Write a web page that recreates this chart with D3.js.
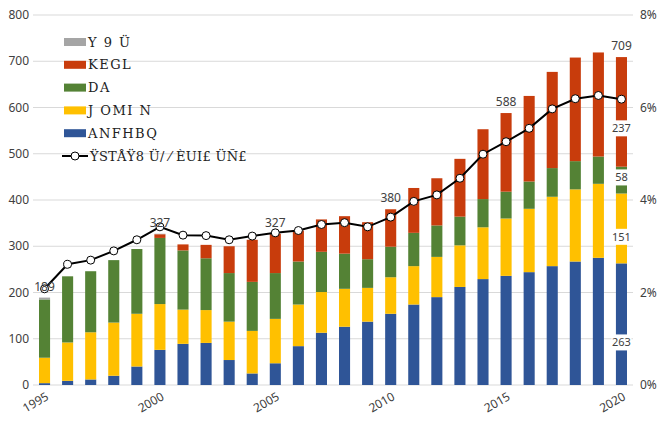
<!DOCTYPE html>
<html>
<head>
<meta charset="utf-8">
<script src="https://cdn.jsdelivr.net/npm/d3@7"></script>
<style>
  body { margin: 0; background: #fff; }
  svg { display: block; font-family: "Noto Sans", "Open Sans", sans-serif; }
  .grid line { stroke: #d9d9d9; stroke-width: 1; }
  .tick-label { font-size: 12px; fill: #404040; }
  .val-label { font-size: 12px; fill: #404040; }
  .legend text { font-family: "DejaVu Serif", serif; font-size: 13px; fill: #222; letter-spacing: 1.5px; }
</style>
</head>
<body>
<div id="chart"></div>
<script>
// --- data ---
const years = d3.range(1995, 2021);
const seriesNames = ["ANFHBQ", "J OMI N", "DA", "KEGL", "Y 9 Ü"];
const blue   = [4, 9, 12, 20, 40, 76, 89, 91, 54, 25, 47, 84, 113, 126, 137, 154, 174, 190, 212, 229, 236, 244, 257, 267, 275, 263];
const yellow = [55, 83, 102, 115, 114, 99, 74, 71, 83, 92, 96, 90, 88, 82, 73, 79, 83, 87, 90, 112, 124, 137, 150, 156, 160, 151];
const green  = [126, 143, 132, 135, 140, 143, 128, 112, 105, 106, 99, 93, 87, 76, 62, 66, 72, 68, 62, 61, 58, 59, 62, 61, 59, 58];
const red    = [0, 0, 0, 0, 0, 8, 13, 29, 58, 91, 85, 67, 70, 81, 80, 81, 97, 102, 125, 151, 170, 185, 208, 224, 225, 237];
const other  = [4, 0, 0, 0, 0, 1, 0, 0, 0, 0, 0, 0, 0, 0, 0, 0, 0, 0, 0, 0, 0, 0, 0, 0, 0, 0];
const share  = [2.08, 2.61, 2.70, 2.90, 3.14, 3.42, 3.24, 3.23, 3.14, 3.22, 3.29, 3.34, 3.47, 3.51, 3.42,
                3.63, 3.97, 4.11, 4.47, 4.99, 5.26, 5.55, 5.97, 6.19, 6.26, 6.18];
const lineName = "ŸSTÅŸ8 Ü/ ⁄ ÈUI£ ÜÑ£";
const totalLabelYears = [1995, 2000, 2005, 2010, 2015, 2020];
const xTickYears = [1995, 2000, 2005, 2010, 2015, 2020];
const leftTicks = d3.range(0, 801, 100);
const rightTicks = [0, 2, 4, 6, 8];

const colors = ["#2f5597", "#ffc000", "#548235", "#c83c0c", "#a5a5a5"];
const keys = ["blue", "yellow", "green", "red", "other"];

const rows = years.map((y, i) => ({
  year: y, blue: blue[i], yellow: yellow[i], green: green[i], red: red[i], other: other[i], share: share[i]
}));

const width = 664, height = 427;
const margin = { top: 15, right: 31, bottom: 42, left: 33 };
const innerW = width - margin.left - margin.right;
const innerH = height - margin.top - margin.bottom;

const svg = d3.select("#chart").append("svg")
  .attr("width", width).attr("height", height);
const g = svg.append("g").attr("transform", `translate(${margin.left},${margin.top})`);

const x = d3.scaleBand().domain(years).range([0, innerW]).paddingInner(0.52).paddingOuter(0.26);
const y = d3.scaleLinear().domain([0, 800]).range([innerH, 0]);
const y2 = d3.scaleLinear().domain([0, 8]).range([innerH, 0]);

// gridlines
g.append("g").attr("class", "grid")
  .selectAll("line").data(leftTicks).join("line")
  .attr("x1", 0).attr("x2", innerW)
  .attr("y1", d => y(d)).attr("y2", d => y(d));

// left axis labels
g.append("g").selectAll("text").data(leftTicks).join("text")
  .attr("class", "tick-label")
  .attr("x", -4).attr("y", d => y(d)).attr("dy", "0.35em")
  .attr("text-anchor", "end").text(d => d);

// right axis labels
g.append("g").selectAll("text").data(rightTicks).join("text")
  .attr("class", "tick-label")
  .attr("x", innerW + 7).attr("y", d => y2(d)).attr("dy", "0.35em")
  .attr("text-anchor", "start").text(d => d + "%");

// x labels
g.append("g").selectAll("text").data(xTickYears).join("text")
  .attr("class", "tick-label")
  .attr("text-anchor", "end")
  .attr("transform", d => `translate(${x(d) + x.bandwidth() / 2 + 5},${innerH + 14}) rotate(-30)`)
  .text(d => d);

// stacked bars
const stacked = d3.stack().keys(keys)(rows);
g.append("g").selectAll("g").data(stacked).join("g")
  .attr("fill", (d, i) => colors[i])
  .selectAll("rect").data(d => d).join("rect")
  .attr("x", d => x(d.data.year))
  .attr("width", x.bandwidth())
  .attr("y", d => y(d[1]))
  .attr("height", d => y(d[0]) - y(d[1]));

// segment labels on last bar
const last = rows[rows.length - 1];
const segFrac = [0.35, 0.38, 0.6, 0.35];
const segLabels = keys.slice(0, 4).map((k, i) => {
  const base = stacked[i][rows.length - 1][0];
  return { v: last[k], pos: base + segFrac[i] * last[k] };
});
const segG = g.append("g").selectAll("g").data(segLabels).join("g")
  .attr("transform", d => `translate(${x(last.year) + x.bandwidth() / 2},${y(d.pos)})`);
segG.append("rect")
  .attr("x", -10).attr("y", -8).attr("width", 20).attr("height", 16)
  .attr("fill", "#fff");
segG.append("text").attr("class", "val-label")
  .attr("text-anchor", "middle").attr("dy", "0.35em")
  .style("font-size", "11px")
  .text(d => d.v);

// share line
const line = d3.line()
  .x(d => x(d.year) + x.bandwidth() / 2)
  .y(d => y2(d.share));
g.append("path").datum(rows)
  .attr("fill", "none").attr("stroke", "#000").attr("stroke-width", 2)
  .attr("d", line);
g.append("g").selectAll("circle").data(rows).join("circle")
  .attr("cx", d => x(d.year) + x.bandwidth() / 2)
  .attr("cy", d => y2(d.share))
  .attr("r", 4)
  .attr("fill", "#fff").attr("stroke", "#000").attr("stroke-width", 1);

// total labels
const total = d => d.blue + d.yellow + d.green + d.red + d.other;
g.append("g").selectAll("text").data(rows.filter(d => totalLabelYears.includes(d.year))).join("text")
  .attr("class", "val-label")
  .attr("x", d => x(d.year) + x.bandwidth() / 2)
  .attr("y", d => y(total(d)) - 7)
  .attr("text-anchor", "middle")
  .text(d => total(d));

// legend
const legendItems = [4, 3, 2, 1, 0];
const legend = svg.append("g").attr("class", "legend").attr("transform", "translate(64,42)");
const li = legend.selectAll("g").data(legendItems).join("g")
  .attr("transform", (d, i) => `translate(0,${i * 22.8})`);
li.append("rect").attr("x", 0).attr("y", -4).attr("width", 22).attr("height", 8)
  .attr("fill", d => colors[d]);
li.append("text").attr("x", 24).attr("dy", "0.35em").text(d => seriesNames[d]);

const ll = legend.append("g").attr("transform", `translate(0,${5 * 22.8})`);
ll.append("line").attr("x1", -2).attr("x2", 24).attr("stroke", "#000").attr("stroke-width", 2);
ll.append("circle").attr("cx", 11).attr("r", 4).attr("fill", "#fff").attr("stroke", "#000");
ll.append("text").attr("x", 26).attr("dy", "0.35em").style("letter-spacing", "0.3px").text(lineName);
</script>
</body>
</html>
